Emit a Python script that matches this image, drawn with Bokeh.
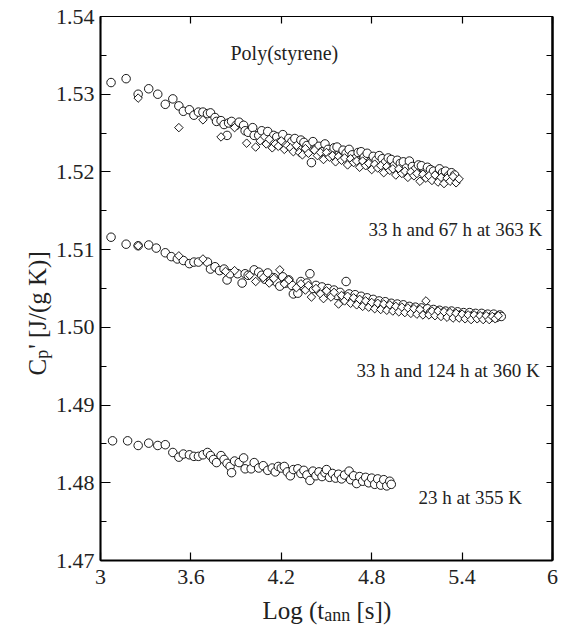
from math import pi
from bokeh.plotting import figure
from bokeh.models import (FixedTicker, LinearAxis, Range1d, Label,
                          CustomJSTickFormatter)
from bokeh.embed import file_html
from bokeh.resources import INLINE

# ---------------- data ----------------
X_TICKS = [3.0, 3.6, 4.2, 4.8, 5.4, 6.0]
Y_TICKS = [1.47, 1.48, 1.49, 1.50, 1.51, 1.52, 1.53, 1.54]
Y_MINOR = [1.475, 1.485, 1.495, 1.505, 1.515, 1.525, 1.535]

# 33 h at 363 K (circles, upper)
up_c_x = [3.07, 3.17, 3.25, 3.32, 3.38, 3.43, 3.48, 3.52, 3.55, 3.59, 3.62, 3.65, 3.68,
          3.71, 3.73, 3.76, 3.77, 3.80, 3.82, 3.84, 3.85, 3.87, 3.90, 3.92, 3.95, 3.96,
          3.98, 4.01, 4.02, 4.05, 4.07, 4.09, 4.11, 4.13, 4.15, 4.17, 4.19, 4.21, 4.23,
          4.25, 4.27, 4.29, 4.31, 4.33, 4.35, 4.37, 4.40, 4.41, 4.43, 4.45, 4.47, 4.49,
          4.51, 4.53, 4.55, 4.57, 4.59, 4.61, 4.63, 4.65, 4.67, 4.69, 4.71, 4.73, 4.75,
          4.77, 4.79, 4.81, 4.83, 4.85, 4.87, 4.89, 4.91, 4.93, 4.95, 4.97, 4.99, 5.01,
          5.03, 5.05, 5.07, 5.09, 5.11, 5.13, 5.15, 5.17, 5.19, 5.21, 5.23, 5.25, 5.27,
          5.29, 5.31, 5.33, 5.35]
up_c_y = [1.5315, 1.5320, 1.5300, 1.5307, 1.5300, 1.5287, 1.5294, 1.5285, 1.5278, 1.5280,
          1.5273, 1.5277, 1.5277, 1.5275, 1.5276, 1.5270, 1.5265, 1.5266, 1.5261, 1.5247,
          1.5263, 1.5265, 1.5260, 1.5264, 1.5260, 1.5253, 1.5251, 1.5257, 1.5247, 1.5247,
          1.5253, 1.5244, 1.5252, 1.5241, 1.5247, 1.5245, 1.5238, 1.5248, 1.5236, 1.5243,
          1.5239, 1.5243, 1.5231, 1.5241, 1.5238, 1.5234, 1.5212, 1.5239, 1.5230, 1.5233,
          1.5226, 1.5236, 1.5229, 1.5224, 1.5231, 1.5232, 1.5220, 1.5228, 1.5224, 1.5229,
          1.5222, 1.5217, 1.5225, 1.5226, 1.5219, 1.5224, 1.5213, 1.5220, 1.5215, 1.5221,
          1.5217, 1.5212, 1.5218, 1.5216, 1.5208, 1.5215, 1.5211, 1.5213, 1.5205, 1.5214,
          1.5207, 1.5203, 1.5209, 1.5208, 1.5199, 1.5206, 1.5203, 1.5201, 1.5196, 1.5204,
          1.5199, 1.5201, 1.5195, 1.5199, 1.5196]

# 67 h at 363 K (diamonds, upper)
up_d_x = [3.25, 3.52, 3.68, 3.80, 3.89, 3.97, 4.03, 4.06, 4.10, 4.12, 4.14, 4.16, 4.18,
          4.20, 4.22, 4.24, 4.26, 4.28, 4.30, 4.32, 4.34, 4.36, 4.38, 4.42, 4.44, 4.46,
          4.48, 4.50, 4.52, 4.54, 4.56, 4.58, 4.60, 4.62, 4.64, 4.66, 4.68, 4.70, 4.72,
          4.74, 4.76, 4.78, 4.80, 4.82, 4.84, 4.86, 4.88, 4.90, 4.92, 4.94, 4.96, 4.98,
          5.00, 5.02, 5.04, 5.06, 5.08, 5.10, 5.12, 5.14, 5.16, 5.18, 5.20, 5.22, 5.24,
          5.26, 5.28, 5.30, 5.32, 5.34, 5.36, 5.38]
up_d_y = [1.5295, 1.5257, 1.5267, 1.5245, 1.5257, 1.5237, 1.5232, 1.5240, 1.5236, 1.5242,
          1.5231, 1.5236, 1.5233, 1.5240, 1.5229, 1.5234, 1.5231, 1.5226, 1.5234, 1.5225,
          1.5222, 1.5230, 1.5224, 1.5228, 1.5221, 1.5225, 1.5216, 1.5225, 1.5219, 1.5221,
          1.5213, 1.5220, 1.5215, 1.5218, 1.5209, 1.5217, 1.5212, 1.5214, 1.5206, 1.5214,
          1.5208, 1.5211, 1.5203, 1.5210, 1.5205, 1.5208, 1.5199, 1.5207, 1.5202, 1.5204,
          1.5196, 1.5204, 1.5198, 1.5201, 1.5193, 1.5200, 1.5195, 1.5198, 1.5188, 1.5197,
          1.5192, 1.5195, 1.5189, 1.5196, 1.5187, 1.5193, 1.5185, 1.5192, 1.5188, 1.5194,
          1.5186, 1.5191]

# 33 h at 360 K (circles, middle)
mid_c_x = [3.07, 3.17, 3.25, 3.32, 3.37, 3.43, 3.47, 3.51, 3.55, 3.59, 3.62, 3.65, 3.71,
           3.73, 3.76, 3.79, 3.82, 3.84, 3.86, 3.91, 3.94, 3.96, 3.98, 4.02, 4.05, 4.07,
           4.09, 4.11, 4.13, 4.15, 4.17, 4.19, 4.21, 4.23, 4.25, 4.27, 4.28, 4.31, 4.33,
           4.35, 4.37, 4.39, 4.41, 4.43, 4.45, 4.47, 4.49, 4.51, 4.53, 4.55, 4.57, 4.59,
           4.61, 4.63, 4.65, 4.67, 4.69, 4.71, 4.73, 4.75, 4.77, 4.79, 4.81, 4.83, 4.85,
           4.87, 4.89, 4.91, 4.93, 4.95, 4.97, 4.99, 5.01, 5.03, 5.05, 5.07, 5.09, 5.11,
           5.13, 5.15, 5.17, 5.19, 5.21, 5.23, 5.25, 5.27, 5.29, 5.31, 5.33, 5.35, 5.37,
           5.39, 5.41, 5.43, 5.45, 5.47, 5.49, 5.51, 5.53, 5.55, 5.57, 5.59, 5.61, 5.63,
           5.65, 5.66]
mid_c_y = [1.5116, 1.5107, 1.5105, 1.5106, 1.5102, 1.5096, 1.5091, 1.5088, 1.5086, 1.5082,
           1.5084, 1.5084, 1.5084, 1.5075, 1.5078, 1.5073, 1.5075, 1.5061, 1.5069, 1.5069,
           1.5057, 1.5069, 1.5067, 1.5074, 1.5071, 1.5067, 1.5062, 1.5070, 1.5060, 1.5064,
           1.5058, 1.5053, 1.5065, 1.5057, 1.5061, 1.5054, 1.5043, 1.5044, 1.5059, 1.5052,
           1.5057, 1.5069, 1.5050, 1.5054, 1.5047, 1.5052, 1.5044, 1.5050, 1.5043, 1.5048,
           1.5041, 1.5045, 1.5039, 1.5059, 1.5043, 1.5037, 1.5042, 1.5036, 1.5040, 1.5033,
           1.5038, 1.5031, 1.5036, 1.5030, 1.5034, 1.5028, 1.5033, 1.5027, 1.5031, 1.5026,
           1.5030, 1.5024, 1.5029, 1.5023, 1.5027, 1.5022, 1.5026, 1.5021, 1.5025, 1.5020,
           1.5024, 1.5019, 1.5023, 1.5018, 1.5022, 1.5018, 1.5021, 1.5017, 1.5021, 1.5016,
           1.5020, 1.5016, 1.5019, 1.5015, 1.5019, 1.5015, 1.5018, 1.5014, 1.5018, 1.5014,
           1.5017, 1.5013, 1.5017, 1.5013, 1.5016, 1.5014]

# 124 h at 360 K (diamonds, middle)
mid_d_x = [3.25, 3.52, 3.68, 3.83, 3.89, 3.99, 4.03, 4.08, 4.12, 4.15, 4.19, 4.22, 4.25,
           4.30, 4.33, 4.36, 4.38, 4.40, 4.43, 4.46, 4.48, 4.50, 4.53, 4.55, 4.58, 4.60,
           4.62, 4.64, 4.66, 4.68, 4.70, 4.72, 4.74, 4.76, 4.78, 4.80, 4.82, 4.84, 4.86,
           4.88, 4.90, 4.92, 4.94, 4.96, 4.98, 5.00, 5.02, 5.04, 5.06, 5.08, 5.10, 5.12,
           5.14, 5.16, 5.18, 5.20, 5.22, 5.24, 5.26, 5.28, 5.30, 5.32, 5.34, 5.36, 5.38,
           5.40, 5.42, 5.44, 5.46, 5.48, 5.50, 5.52, 5.54, 5.56, 5.58, 5.60, 5.62, 5.64]
mid_d_y = [1.5105, 1.5092, 1.5088, 1.5072, 1.5073, 1.5067, 1.5059, 1.5064, 1.5057, 1.5063,
           1.5074, 1.5056, 1.5061, 1.5051, 1.5056, 1.5048, 1.5054, 1.5039, 1.5050, 1.5043,
           1.5037, 1.5047, 1.5039, 1.5045, 1.5030, 1.5041, 1.5034, 1.5040, 1.5031, 1.5038,
           1.5029, 1.5036, 1.5027, 1.5034, 1.5026, 1.5032, 1.5024, 1.5031, 1.5023, 1.5030,
           1.5022, 1.5029, 1.5021, 1.5027, 1.5020, 1.5026, 1.5019, 1.5025, 1.5018, 1.5024,
           1.5017, 1.5023, 1.5016, 1.5034, 1.5016, 1.5021, 1.5015, 1.5021, 1.5014, 1.5020,
           1.5013, 1.5019, 1.5012, 1.5018, 1.5012, 1.5017, 1.5011, 1.5016, 1.5010, 1.5016,
           1.5011, 1.5015, 1.5010, 1.5015, 1.5010, 1.5014, 1.5011, 1.5015]

# 23 h at 355 K (circles, lower)
low_c_x = [3.08, 3.18, 3.25, 3.32, 3.38, 3.43, 3.48, 3.52, 3.55, 3.59, 3.62, 3.65, 3.68,
           3.71, 3.73, 3.75, 3.77, 3.80, 3.82, 3.84, 3.86, 3.87, 3.89, 3.92, 3.95, 3.96,
           4.00, 4.02, 4.05, 4.08, 4.11, 4.14, 4.16, 4.18, 4.20, 4.22, 4.24, 4.26, 4.28,
           4.31, 4.33, 4.35, 4.37, 4.39, 4.41, 4.43, 4.45, 4.47, 4.49, 4.50, 4.52, 4.54,
           4.56, 4.58, 4.60, 4.62, 4.65, 4.66, 4.68, 4.70, 4.72, 4.74, 4.76, 4.78, 4.80,
           4.82, 4.84, 4.86, 4.88, 4.90, 4.92, 4.93]
low_c_y = [1.4854, 1.4854, 1.4848, 1.4851, 1.4848, 1.4849, 1.4839, 1.4833, 1.4837, 1.4836,
           1.4834, 1.4834, 1.4836, 1.4839, 1.4835, 1.4830, 1.4826, 1.4835, 1.4830, 1.4825,
           1.4821, 1.4813, 1.4828, 1.4826, 1.4832, 1.4818, 1.4818, 1.4826, 1.4819, 1.4822,
           1.4816, 1.4819, 1.4814, 1.4821, 1.4819, 1.4821, 1.4814, 1.4809, 1.4817, 1.4818,
           1.4812, 1.4816, 1.4810, 1.4803, 1.4815, 1.4809, 1.4814, 1.4808, 1.4813, 1.4817,
           1.4807, 1.4812, 1.4806, 1.4811, 1.4805, 1.4810, 1.4815, 1.4804, 1.4809, 1.4799,
           1.4808, 1.4802, 1.4807, 1.4800, 1.4806, 1.4798, 1.4805, 1.4797, 1.4804, 1.4796,
           1.4802, 1.4798]

TITLE = "Poly(styrene)"
NOTE_UP = "33 h and 67 h at 363 K"
NOTE_MID = "33 h and 124 h at 360 K"
NOTE_LOW = "23 h  at 355 K"

# ---------------- figure ----------------
SERIF = "Liberation Serif"
FW, FH = 452, 544
XR, YR = (3.0, 6.0), (1.47, 1.54)

p = figure(frame_width=FW, frame_height=FH,
           x_range=Range1d(*XR), y_range=Range1d(*YR),
           output_backend="svg", toolbar_location=None,
           min_border_left=100, min_border_right=11,
           min_border_top=16, min_border_bottom=60)
p.background_fill_color = "white"
p.border_fill_color = "white"
p.grid.visible = False
p.outline_line_color = "black"
p.outline_line_width = 1.2

fmt_x = CustomJSTickFormatter(code="return String(Number(tick.toFixed(1)));")
fmt_y = CustomJSTickFormatter(code="return tick.toFixed(2);")
fmt_none = CustomJSTickFormatter(code="return '';")

for ax in p.xaxis:
    ax.ticker = FixedTicker(ticks=X_TICKS)
    ax.formatter = fmt_x
for ax in p.yaxis:
    ax.ticker = FixedTicker(ticks=Y_TICKS, minor_ticks=Y_MINOR)
    ax.formatter = fmt_y

for ax in list(p.xaxis) + list(p.yaxis):
    ax.major_label_text_font = SERIF
    ax.major_label_text_font_size = "22px"
    ax.major_label_text_color = "#222222"
    ax.axis_line_color = "black"
    ax.axis_line_width = 2
    ax.major_tick_line_color = "black"
    ax.minor_tick_line_color = "black"
    ax.major_tick_line_width = 1.2
    ax.minor_tick_line_width = 1.2
    ax.major_tick_out = 0
    ax.minor_tick_out = 0

p.xaxis.major_tick_in = 8
p.xaxis.minor_tick_in = 0
p.xaxis.major_label_standoff = 9
p.yaxis.major_tick_in = 10
p.yaxis.minor_tick_in = 6
p.yaxis.major_label_standoff = 6

top = LinearAxis(ticker=FixedTicker(ticks=X_TICKS), formatter=fmt_none,
                 major_tick_in=7, major_tick_out=0, minor_tick_in=0, minor_tick_out=0,
                 major_label_standoff=0, axis_line_width=1.2,
                 major_tick_line_width=1.2)
p.add_layout(top, "above")
right = LinearAxis(ticker=FixedTicker(ticks=Y_TICKS, minor_ticks=Y_MINOR),
                   formatter=fmt_none,
                   major_tick_in=6, major_tick_out=0, minor_tick_in=6, minor_tick_out=0,
                   major_label_standoff=0, axis_line_width=2.5,
                   major_tick_line_width=1.2, minor_tick_line_width=1.2)
p.add_layout(right, "right")

# ---------------- marks ----------------
mk = dict(fill_color="white", line_color="black", line_width=0.9)
p.scatter(up_c_x, up_c_y, marker="circle", size=8.5, **mk)
p.scatter(mid_c_x, mid_c_y, marker="circle", size=8.5, **mk)
p.scatter(low_c_x, low_c_y, marker="circle", size=8.5, **mk)
p.scatter(up_d_x, up_d_y, marker="square", angle=pi / 4, size=6, **mk)
p.scatter(mid_d_x, mid_d_y, marker="square", angle=pi / 4, size=6, **mk)


# ---------------- texts (canvas pixel placement) ----------------
def lab(txt, cx, cy, size, angle=0.0, place="center"):
    lbl = Label(x=cx, y=cy, x_units="canvas", y_units="canvas", text=txt,
                text_font=SERIF, text_font_size=f"{size}px",
                text_color="#222222", text_align="left",
                text_baseline="alphabetic", angle=angle)
    p.add_layout(lbl, place)


lab(TITLE, 230, 52, 20)
lab(NOTE_UP, 368, 229, 19)
lab(NOTE_MID, 356, 370, 19)
lab(NOTE_LOW, 418, 497, 19)

# x-axis title: Log (t_ann [s])  (side panel, so it is not clipped to the frame)
F, S = 25, 18
x0 = 262
lab("Log (t", x0, 610, F, place="below")
x1 = x0 + 2.472 * F
lab("ann", x1, 614, S, place="below")
x2 = x1 + 1.444 * S + 0.25 * F
lab("[s])", x2, 610, F, place="below")

# y-axis title: C_p' [J/(g K)] (rotated, reading upward); kept in the right panel
# so that the left border (and the frame position) is unchanged
bx = 37
y0 = 375
lab("C", bx, y0, F, angle=pi / 2, place="right")
y1 = y0 - 0.667 * F
lab("p", bx + 4, y1, S, angle=pi / 2, place="right")
y2 = y1 - 0.5 * S - 1
lab("' [J/(g K)]", bx, y2, F, angle=pi / 2, place="right")

open("out.html", "w").write(file_html(p, INLINE))
